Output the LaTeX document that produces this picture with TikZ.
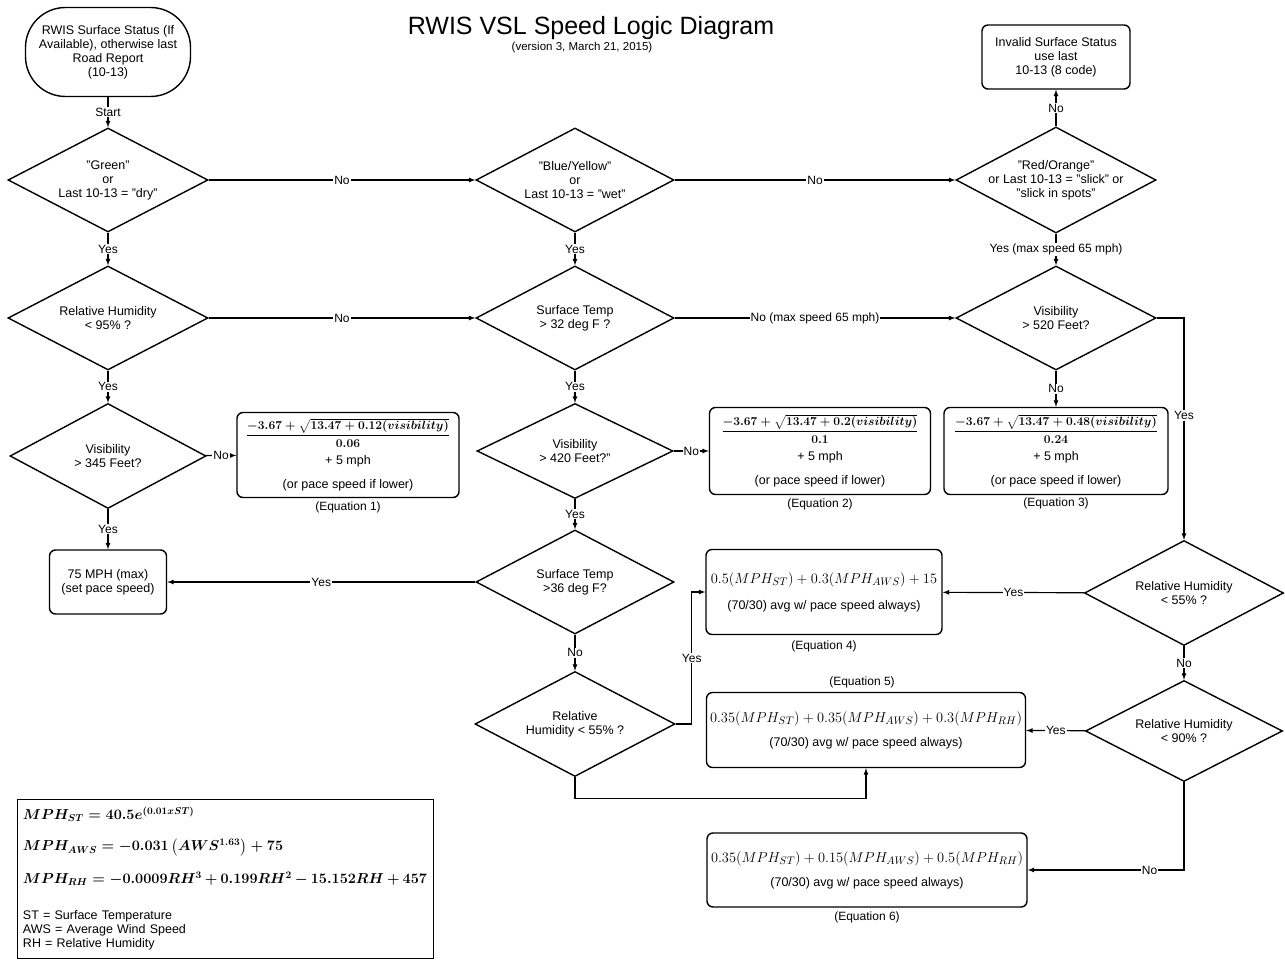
\documentclass[tikz,border=0pt]{standalone}
\usepackage{fontspec}
\setmainfont{Liberation Sans}
\usepackage{amsmath}
\usetikzlibrary{arrows,shapes.geometric}

\newcommand{\eqsz}{\fontsize{15}{17}\selectfont}
\newcommand{\legsz}{\fontsize{14}{16}\selectfont}

\begin{document}
\begin{tikzpicture}[x=1pt,y=-1pt,
  every node/.style={font=\fontsize{12.5}{14}\selectfont},
  decision/.style={draw,diamond,line width=1.4pt,aspect=1.9,inner sep=-6pt,align=center},
  block/.style={draw,rectangle,rounded corners=6pt,line width=1.4pt,align=center},
  lbl/.style={fill=white,inner sep=1pt,font=\fontsize{12}{14}\selectfont},
  eqnote/.style={inner sep=1pt,font=\fontsize{12}{14}\selectfont},
  conn/.style={line width=1.2pt,-latex}]
  \useasboundingbox (0,0) rectangle (1285,960);

  \node (title) at (591,28) {\fontsize{25}{30}\selectfont RWIS VSL Speed Logic Diagram};
  \node (version) at (582,48) {\fontsize{11.5}{13}\selectfont (version 3, March 21, 2015)};

  \node[block,rounded corners=40pt,minimum width=165,minimum height=89] (start) at (108,52)
    {RWIS Surface Status (If\\Available), otherwise last\\Road Report\\(10-13)};
  \node[block,minimum width=148,minimum height=64] (invalid) at (1056,57)
    {Invalid Surface Status\\use last\\10-13 (8 code)};

  \node[decision,minimum width=200,minimum height=104] (green) at (108,180) {"Green"\\or\\Last 10-13 = "dry"};
  \node[decision,minimum width=198,minimum height=104] (blue) at (575,180) {"Blue/Yellow"\\or\\Last 10-13 = "wet"};
  \node[decision,minimum width=200,minimum height=106] (red) at (1056,180) {"Red/Orange"\\or Last 10-13 = "slick" or\\"slick in spots"};

  \node[decision,minimum width=200,minimum height=104] (rh95) at (108,318) {Relative Humidity\\< 95\% ?};
  \node[decision,minimum width=198,minimum height=104] (st32) at (575,318) {Surface Temp\\> 32 deg F ?};
  \node[decision,minimum width=200,minimum height=104] (vis520) at (1056,318) {Visibility\\> 520 Feet?};

  \node[decision,minimum width=196,minimum height=105] (vis345) at (108,456) {Visibility\\> 345 Feet?};
  \node[decision,minimum width=196,minimum height=95] (vis420) at (575,451) {Visibility\\> 420 Feet?"};

  \node[block,minimum width=222,minimum height=85] (eq1) at (348,455)
    {{\boldmath$\dfrac{-3.67+\sqrt{13.47+0.12(visibility)}}{0.06}$}\\[7pt]+ 5 mph\\[10pt](or pace speed if lower)};
  \node[block,minimum width=221,minimum height=87] (eq2) at (820,451)
    {{\boldmath$\dfrac{-3.67+\sqrt{13.47+0.2(visibility)}}{0.1}$}\\[7pt]+ 5 mph\\[10pt](or pace speed if lower)};
  \node[block,minimum width=224,minimum height=87] (eq3) at (1056,451)
    {{\boldmath$\dfrac{-3.67+\sqrt{13.47+0.48(visibility)}}{0.24}$}\\[7pt]+ 5 mph\\[10pt](or pace speed if lower)};
  \node[eqnote] (eq1note) at (348,507) {(Equation 1)};
  \node[eqnote] (eq2note) at (820,504) {(Equation 2)};
  \node[eqnote] (eq3note) at (1056,503) {(Equation 3)};

  \node[block,minimum width=117,minimum height=64] (maxspeed) at (108,582) {75 MPH (max)\\(set pace speed)};
  \node[decision,minimum width=198,minimum height=104] (st36) at (575,582) {Surface Temp\\>36 deg F?};
  \node[decision,minimum width=200,minimum height=105] (rh55a) at (575,724) {Relative\\Humidity < 55\% ?};
  \node[decision,minimum width=199,minimum height=105] (rh55b) at (1184,593) {Relative Humidity\\< 55\% ?};
  \node[decision,minimum width=197,minimum height=101] (rh90) at (1184,731) {Relative Humidity\\< 90\% ?};

  \node[block,minimum width=236,minimum height=85] (eq4) at (824,592)
    {{\eqsz$0.5(MPH_{ST})+0.3(MPH_{AWS})+15$}\\[12pt](70/30) avg w/ pace speed always)};
  \node[block,minimum width=319,minimum height=75] (eq5) at (866,730)
    {{\eqsz$0.35(MPH_{ST})+0.35(MPH_{AWS})+0.3(MPH_{RH})$}\\[10pt](70/30) avg w/ pace speed always)};
  \node[block,minimum width=320,minimum height=74] (eq6) at (867,870)
    {{\eqsz$0.35(MPH_{ST})+0.15(MPH_{AWS})+0.5(MPH_{RH})$}\\[10pt](70/30) avg w/ pace speed always)};
  \node[eqnote] (eq4note) at (824,646) {(Equation 4)};
  \node[eqnote] (eq5note) at (862,682) {(Equation 5)};
  \node[eqnote] (eq6note) at (867,917) {(Equation 6)};

  \node[draw,line width=1pt,align=left,text width=404,inner sep=6pt,minimum height=159] (legend) at (225,878.5)
    {{\legsz\boldmath$MPH_{ST} = 40.5e^{(0.01xST)}$}\\[16pt]
     {\legsz\boldmath$MPH_{AWS} = -0.031\left(AWS^{1.63}\right)+75$}\\[15pt]
     {\legsz\boldmath$MPH_{RH} = -0.0009RH^3+0.199RH^2-15.152RH+457$}\\[22pt]
     ST = Surface Temperature\\
     AWS = Average Wind Speed\\
     RH = Relative Humidity};

  \draw[conn] (start) -- node[lbl] {Start} (green);
  \draw[conn] (green) -- node[lbl] {No} (blue);
  \draw[conn] (blue) -- node[lbl] {No} (red);
  \draw[conn] (red) -- node[lbl] {No} (invalid);
  \draw[conn] (green) -- node[lbl] {Yes} (rh95);
  \draw[conn] (blue) -- node[lbl] {Yes} (st32);
  \draw[conn] (red) -- node[lbl] {Yes (max speed 65 mph)} (vis520);
  \draw[conn] (rh95) -- node[lbl] {No} (st32);
  \draw[conn] (st32) -- node[lbl] {No (max speed 65 mph)} (vis520);
  \draw[conn] (rh95) -- node[lbl] {Yes} (vis345);
  \draw[conn] (st32) -- node[lbl] {Yes} (vis420);
  \draw[conn] (vis520) -- node[lbl] {No} (eq3);
  \draw[conn] (vis345) -- node[lbl] {No} (eq1);
  \draw[conn] (vis420) -- node[lbl] {No} (eq2);
  \draw[conn] (vis345) -- node[lbl] {Yes} (maxspeed);
  \draw[conn] (vis420) -- node[lbl] {Yes} (st36);
  \draw[conn] (st36) -- node[lbl] {Yes} (maxspeed);
  \draw[conn] (st36) -- node[lbl] {No} (rh55a);
  \draw[conn] (rh55a.east) -- ++(16,0) |- node[lbl,pos=0.25] {Yes} (eq4.west);
  \draw[conn] (rh55a.south) -- ++(0,21) -| (eq5.south);
  \draw[conn] (vis520.east) -| node[lbl,pos=0.72] {Yes} (rh55b.north);
  \draw[conn] (rh55b) -- node[lbl] {Yes} (eq4);
  \draw[conn] (rh55b) -- node[lbl] {No} (rh90);
  \draw[conn] (rh90) -- node[lbl] {Yes} (eq5);
  \draw[conn] (rh90.south) |- node[lbl,pos=0.61] {No} (eq6.east);

\end{tikzpicture}
\end{document}
